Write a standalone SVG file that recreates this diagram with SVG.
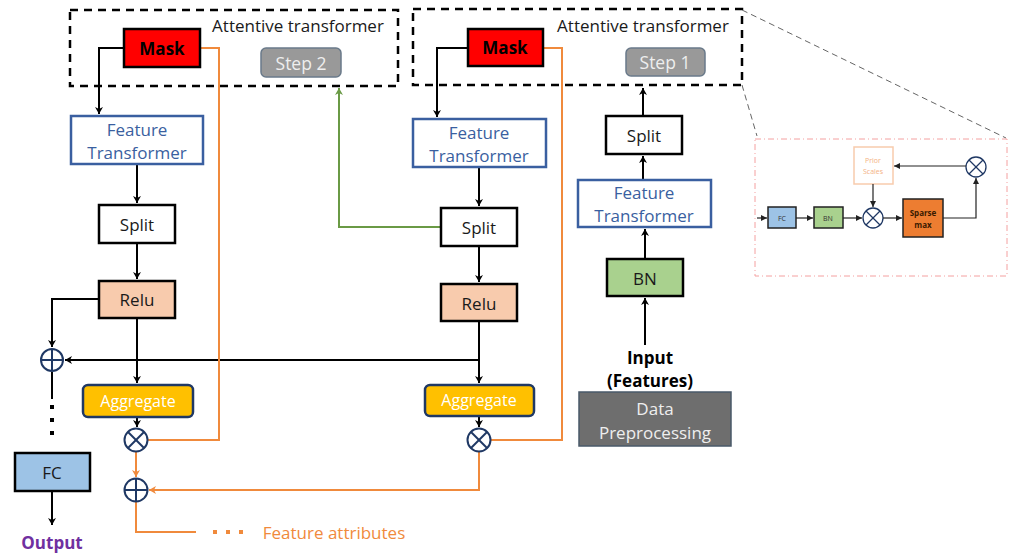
<svg xmlns="http://www.w3.org/2000/svg" width="1009" height="553" viewBox="0 0 1009 553">
<style>
text{font-family:"Open Sans","Noto Sans","Liberation Sans",sans-serif;text-anchor:middle;dominant-baseline:central}
.blk{fill:none;stroke:#000;stroke-width:2}
.org{fill:none;stroke:#f08a3c;stroke-width:2}
.grn{fill:none;stroke:#6a9a45;stroke-width:2}
.box{stroke:#000;stroke-width:2.5}
.ft{fill:#fff;stroke:#3a5fa0;stroke-width:2.5}
.ftt{fill:#3a5fa0;font-size:17px}
.t17{font-size:17px;fill:#1a1a1a}
.dash{fill:none;stroke:#000;stroke-width:2.5;stroke-dasharray:8 6}
.circ{fill:#fff;stroke:#1f3864;stroke-width:2}
.cl{stroke:#1f3864;stroke-width:2}
.agg{fill:#ffc000;stroke:#1f3864;stroke-width:2.5}
.aggt{fill:#fff;font-size:16px}
.step{fill:#999;stroke:#6a7a8a;stroke-width:1.5}
.stept{fill:#eee;font-size:17.5px}
.ib{stroke:#222;stroke-width:1.5}
.il{fill:none;stroke:#222;stroke-width:1.2}
</style>
<defs>
<marker id="ab" markerWidth="10" markerHeight="10" refX="8" refY="5" orient="auto" markerUnits="userSpaceOnUse"><path d="M1,1 L8,5 L1,9 L3,5 Z" fill="#000"/></marker>
<marker id="ao" markerWidth="10" markerHeight="10" refX="8" refY="5" orient="auto" markerUnits="userSpaceOnUse"><path d="M1,1 L8,5 L1,9 L3,5 Z" fill="#f08a3c"/></marker>
<marker id="ag" markerWidth="10" markerHeight="10" refX="8" refY="5" orient="auto" markerUnits="userSpaceOnUse"><path d="M1,1 L8,5 L1,9 L3,5 Z" fill="#6a9a45"/></marker>
<marker id="ai" markerWidth="7" markerHeight="7" refX="6" refY="3.5" orient="auto" markerUnits="userSpaceOnUse"><path d="M0,0.5 L6,3.5 L0,6.5 Z" fill="#222"/></marker>
</defs>

<g id="connectors">
<polyline class="blk" points="124,48 99,48 99,114" marker-end="url(#ab)"/>
<line class="blk" x1="137" y1="164" x2="137" y2="203" marker-end="url(#ab)"/>
<line class="blk" x1="137" y1="243" x2="137" y2="279" marker-end="url(#ab)"/>
<line class="blk" x1="137" y1="318" x2="137" y2="383" marker-end="url(#ab)"/>
<line class="blk" x1="137" y1="418" x2="137" y2="427" marker-end="url(#ab)"/>
<polyline class="blk" points="99,299 52,299 52,347" marker-end="url(#ab)"/>
<line class="blk" x1="52" y1="372" x2="52" y2="399"/>
<rect x="50" y="405" width="4" height="4" fill="#000"/>
<rect x="50" y="418" width="4" height="4" fill="#000"/>
<rect x="50" y="431" width="4" height="4" fill="#000"/>
<line class="blk" x1="52" y1="491" x2="52" y2="525" marker-end="url(#ab)"/>
<polyline class="blk" points="468,48 437,48 437,117" marker-end="url(#ab)"/>
<line class="blk" x1="479" y1="167" x2="479" y2="206" marker-end="url(#ab)"/>
<line class="blk" x1="479" y1="246" x2="479" y2="282" marker-end="url(#ab)"/>
<line class="blk" x1="479" y1="321" x2="479" y2="383" marker-end="url(#ab)"/>
<line class="blk" x1="479" y1="416" x2="479" y2="427" marker-end="url(#ab)"/>
<polyline class="blk" points="479,360 65,360" marker-end="url(#ab)"/>
<polyline class="grn" points="441,227 339,227 339,88" marker-end="url(#ag)"/>
<line class="blk" x1="643" y1="116" x2="643" y2="88" marker-end="url(#ab)" stroke-width="2.5"/>
<line class="blk" x1="643" y1="180" x2="643" y2="156" marker-end="url(#ab)" stroke-width="2.5"/>
<line class="blk" x1="645" y1="259" x2="645" y2="229" marker-end="url(#ab)" stroke-width="2.5"/>
<line class="blk" x1="645" y1="345" x2="645" y2="298" marker-end="url(#ab)" stroke-width="2.5"/>
<polyline class="org" points="148,440 219,440 219,48 200,48"/>
<polyline class="org" points="491,440 562,440 562,48 543,48"/>
<line class="org" x1="136" y1="452" x2="136" y2="477" marker-end="url(#ao)"/>
<polyline class="org" points="479,452 479,490 149,490" marker-end="url(#ao)"/>
<polyline class="org" points="136,502 136,532 196,532"/>
<rect x="213" y="530" width="4" height="4" fill="#f08a3c"/>
<rect x="226" y="530" width="4" height="4" fill="#f08a3c"/>
<rect x="239" y="530" width="4" height="4" fill="#f08a3c"/>
<line x1="742" y1="10" x2="1006" y2="138" stroke="#666" stroke-width="1" stroke-dasharray="6 4"/>
<line x1="742" y1="85" x2="757" y2="136" stroke="#666" stroke-width="1" stroke-dasharray="6 4"/>
</g>

<g id="attentive-left">
<rect class="dash" x="70" y="10" width="328" height="76"/>
<text x="298" y="25" class="t17" font-size="16">Attentive transformer</text>
</g>
<g id="attentive-right">
<rect class="dash" x="413" y="9" width="329" height="76"/>
<text x="643" y="25" class="t17" font-size="16">Attentive transformer</text>
</g>

<g id="mask-left"><rect class="box" x="124" y="29" width="76" height="38" fill="#ff0000"/><text x="162" y="48" font-size="17" font-weight="bold" fill="#000">Mask</text></g>
<g id="mask-mid"><rect class="box" x="468" y="29" width="75" height="37" fill="#ff0000"/><text x="505" y="47" font-size="17" font-weight="bold" fill="#000">Mask</text></g>
<g id="step2"><rect class="step" x="261" y="48" width="80" height="29" rx="5"/><text x="301" y="63" class="stept">Step 2</text></g>
<g id="step1"><rect class="step" x="626" y="48" width="79" height="28" rx="5"/><text x="665" y="62" class="stept">Step 1</text></g>

<g id="ft-left"><rect class="ft" x="71" y="116" width="132" height="48"/><text x="137" y="129" class="ftt">Feature</text><text x="137" y="152" class="ftt">Transformer</text></g>
<g id="ft-mid"><rect class="ft" x="413" y="119" width="133" height="48"/><text x="479" y="132" class="ftt">Feature</text><text x="479" y="155" class="ftt">Transformer</text></g>
<g id="ft-right"><rect class="ft" x="578" y="180" width="133" height="47"/><text x="644" y="192" class="ftt">Feature</text><text x="644" y="215" class="ftt">Transformer</text></g>

<g id="split-left"><rect class="box" x="99" y="205" width="76" height="38" fill="#fff"/><text x="137" y="224" class="t17">Split</text></g>
<g id="split-mid"><rect class="box" x="441" y="208" width="76" height="38" fill="#fff"/><text x="479" y="227" class="t17">Split</text></g>
<g id="split-right"><rect class="box" x="606" y="116" width="76" height="38" fill="#fff"/><text x="644" y="135" class="t17">Split</text></g>

<g id="relu-left"><rect class="box" x="99" y="281" width="76" height="37" fill="#f8cbad"/><text x="137" y="299" class="t17">Relu</text></g>
<g id="relu-mid"><rect class="box" x="441" y="284" width="76" height="37" fill="#f8cbad"/><text x="479" y="303" class="t17">Relu</text></g>

<g id="bn"><rect class="box" x="607" y="259" width="76" height="37" fill="#a9d18e"/><text x="645" y="278" class="t17">BN</text></g>

<g id="agg-left"><rect class="agg" x="83" y="385" width="110" height="32" rx="5"/><text x="138" y="401" class="aggt">Aggregate</text></g>
<g id="agg-mid"><rect class="agg" x="425" y="385" width="109" height="31" rx="5"/><text x="479" y="400" class="aggt">Aggregate</text></g>

<g id="plus-left"><circle class="circ" cx="52" cy="360" r="11"/><line class="cl" x1="41" y1="360" x2="63" y2="360"/><line class="cl" x1="52" y1="349" x2="52" y2="371"/></g>
<g id="times-left"><circle class="circ" cx="136" cy="440" r="11.5"/><line class="cl" x1="128" y1="432" x2="144" y2="448"/><line class="cl" x1="144" y1="432" x2="128" y2="448"/></g>
<g id="plus-bottom"><circle class="circ" cx="136" cy="490" r="11.5"/><line class="cl" x1="124.5" y1="490" x2="147.5" y2="490"/><line class="cl" x1="136" y1="478.5" x2="136" y2="501.5"/></g>
<g id="times-mid"><circle class="circ" cx="479" cy="440" r="11.5"/><line class="cl" x1="471" y1="432" x2="487" y2="448"/><line class="cl" x1="487" y1="432" x2="471" y2="448"/></g>

<g id="fc"><rect class="box" x="15" y="453" width="75" height="38" fill="#9dc3e6"/><text x="52" y="472" class="t17">FC</text></g>
<g id="output"><text x="52" y="542" font-size="17" font-weight="bold" fill="#7030a0">Output</text></g>
<g id="feature-attributes"><text x="334" y="532" font-size="17" fill="#f08a3c">Feature attributes</text></g>

<g id="input"><text x="650" y="357" font-size="17" font-weight="bold" fill="#000">Input</text><text x="650" y="380" font-size="17" font-weight="bold" fill="#000">(Features)</text></g>
<g id="data-preprocessing"><rect x="579" y="392" width="152" height="54" fill="#6e6e6e" stroke="#4a5a6a" stroke-width="1.5"/><text x="655" y="408" font-size="17" fill="#eee">Data</text><text x="655" y="432" font-size="17" fill="#eee">Preprocessing</text></g>

<g id="inset">
<rect x="755" y="139" width="252" height="137" fill="none" stroke="#f4a0a0" stroke-width="1" stroke-dasharray="6 3 1 3"/>
<line class="il" x1="757" y1="218" x2="767" y2="218" marker-end="url(#ai)"/>
<rect class="ib" x="768" y="207" width="28" height="21" fill="#9dc3e6"/><text x="782" y="218" font-size="7" fill="#333">FC</text>
<line class="il" x1="796" y1="218" x2="813" y2="218" marker-end="url(#ai)"/>
<rect class="ib" x="814" y="207" width="29" height="21" fill="#a9d18e"/><text x="828" y="218" font-size="7" fill="#333">BN</text>
<line class="il" x1="843" y1="218" x2="862" y2="218" marker-end="url(#ai)"/>
<circle cx="873" cy="218" r="10" fill="#fff" stroke="#1f3864" stroke-width="1.3"/><line x1="866" y1="211" x2="880" y2="225" stroke="#1f3864" stroke-width="1.3"/><line x1="880" y1="211" x2="866" y2="225" stroke="#1f3864" stroke-width="1.3"/>
<line class="il" x1="883" y1="218" x2="902" y2="218" marker-end="url(#ai)"/>
<rect class="ib" x="903" y="199" width="40" height="38" fill="#ed7d31"/><text x="923" y="212" font-size="8" font-weight="bold" fill="#3a1a00">Sparse</text><text x="923" y="224" font-size="8" font-weight="bold" fill="#3a1a00">max</text>
<polyline class="il" points="943,218 976,218 976,178" marker-end="url(#ai)"/>
<circle cx="976" cy="167" r="10" fill="#fff" stroke="#1f3864" stroke-width="1.3"/><line x1="969" y1="160" x2="983" y2="174" stroke="#1f3864" stroke-width="1.3"/><line x1="983" y1="160" x2="969" y2="174" stroke="#1f3864" stroke-width="1.3"/>
<line class="il" x1="966" y1="166" x2="894" y2="166" marker-end="url(#ai)"/>
<rect x="854" y="147" width="39" height="37" fill="#fff" stroke="#f8cbad" stroke-width="1.5"/><text x="873" y="160" font-size="7" fill="#f4b183">Prior</text><text x="873" y="171" font-size="7" fill="#f4b183">Scales</text>
<line class="il" x1="873" y1="184" x2="873" y2="207" marker-end="url(#ai)"/>
</g>
</svg>
